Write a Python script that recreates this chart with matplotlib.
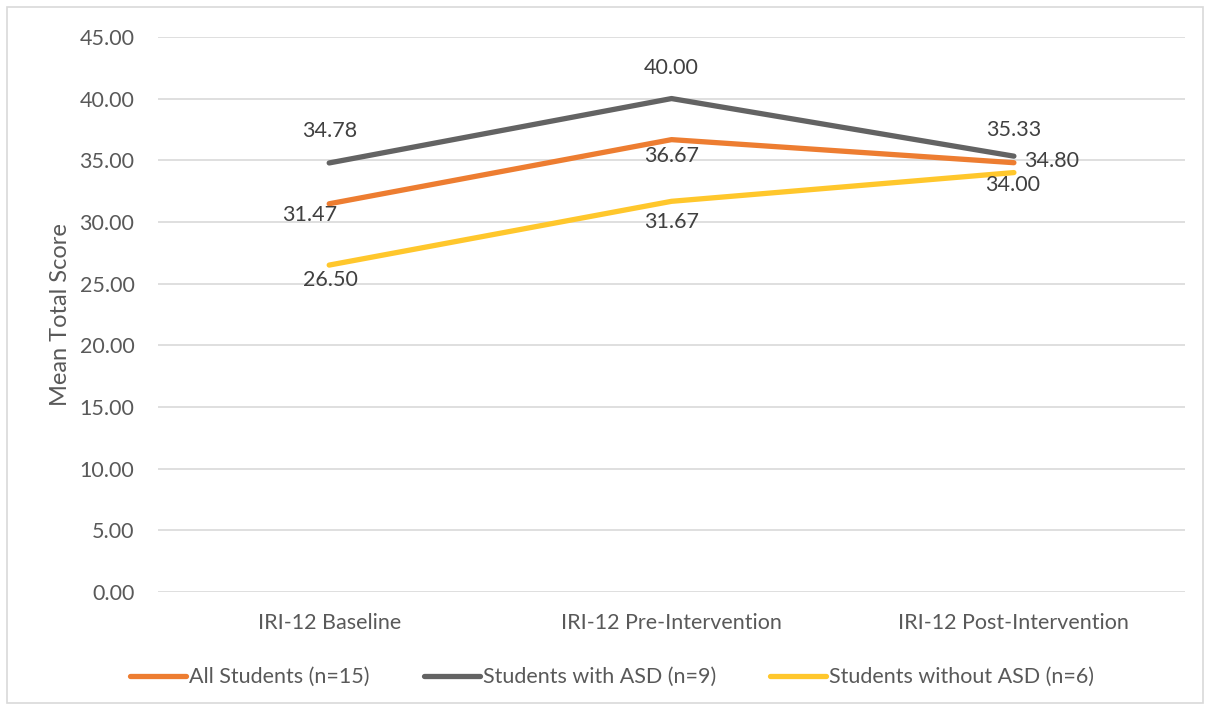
import matplotlib.pyplot as plt
from matplotlib.patches import Rectangle

plt.rcParams['font.family'] = ['Lato', 'DejaVu Sans']

# data
categories = ["IRI-12 Baseline", "IRI-12 Pre-Intervention", "IRI-12 Post-Intervention"]
all_students = [31.47, 36.67, 34.80]
with_asd = [34.78, 40.00, 35.33]
without_asd = [26.50, 31.67, 34.00]
series_names = ["All Students (n=15)", "Students with ASD (n=9)", "Students without ASD (n=6)"]

text_col = '#595959'
grid_col = '#d9d9d9'
colors = ['#ED7D31', '#636363', '#FFC72C']
fs = 15.5

fig = plt.figure(figsize=(12.1, 7.09), dpi=100)
ax = fig.add_axes([0.1306, 0.165, 0.8488, 0.783])

x = range(len(categories))
series = [all_students, with_asd, without_asd]
for vals, c, name in zip(series, colors, series_names):
    ax.plot(x, vals, color=c, linewidth=3.8, solid_capstyle='round', label=name)

# data labels (offsets in points)
offsets = {
    0: [(-14, -8), (0, -12), (27, 1)],       # all students
    1: [(0, 23), (0, 22), (0, 19)],          # with ASD
    2: [(1, -11), (0, -15), (-1, -9)],       # without ASD
}
for si, vals in enumerate(series):
    for i, v in enumerate(vals):
        dx, dy = offsets[si][i]
        ax.annotate(f"{v:.2f}", (i, v), xytext=(dx, dy), textcoords='offset points',
                    ha='center', va='center', fontsize=fs, color='#404040')

ax.set_xlim(-0.5, 2.5)
ax.set_ylim(0, 45)
ax.set_yticks(range(0, 46, 5))
ax.set_yticklabels([f"{v:.2f}" for v in range(0, 46, 5)])
ax.set_xticks(list(x))
ax.set_xticklabels(categories)
ax.tick_params(axis='both', length=0, labelsize=fs, labelcolor=text_col)
ax.tick_params(axis='y', pad=17)
ax.tick_params(axis='x', pad=15)
ax.grid(axis='y', color=grid_col, linewidth=1.2)
ax.set_axisbelow(True)
for s in ax.spines.values():
    s.set_visible(False)
ax.set_ylabel("Mean Total Score", fontsize=17, color=text_col, labelpad=6)

leg = fig.legend(loc='center', bbox_to_anchor=(0.506, 0.045), ncol=3, frameon=False,
                 fontsize=fs, handlelength=2.6, handletextpad=0.15, columnspacing=2.5,
                 labelcolor=text_col)

fig.patches.append(Rectangle((0.006, 0.008), 0.988, 0.982, transform=fig.transFigure,
                             fill=False, edgecolor=grid_col, linewidth=1.2))

fig.savefig("out.png", dpi=100)
